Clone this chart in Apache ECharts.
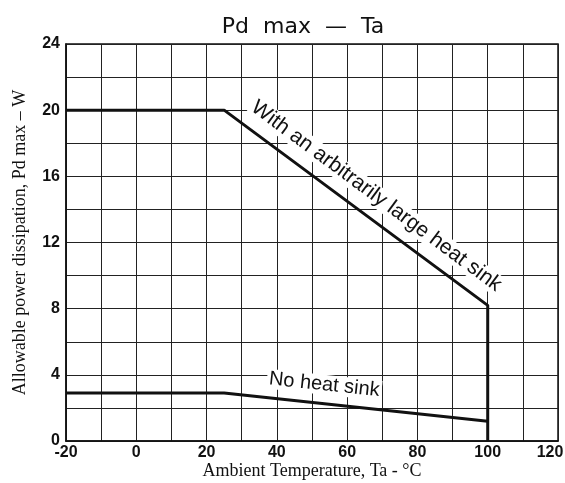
<!DOCTYPE html>
<html>
<head>
<meta charset="utf-8">
<script src="https://cdn.jsdelivr.net/npm/echarts@6/dist/echarts.min.js"></script>
<style>html,body{margin:0;padding:0;background:#fff;}#c{width:565px;height:483px;}</style>
</head>
<body>
<div id="c"></div>
<script>
// Data (Ta in °C, Pd max in W)
const heatSinkTa = [-20, 25, 100, 100];
const heatSinkPd = [20, 20, 8.2, 0];
const noSinkTa = [-20, 25, 100];
const noSinkPd = [2.9, 2.9, 1.2];
const xTickLabels = [-20, 0, 20, 40, 60, 80, 100, 120];
const yTickLabels = [0, 4, 8, 12, 16, 20, 24];
const heatSinkLabel = {text: 'With an arbitrarily large heat sink', ta: 68.3, pd: 14.8};
const noSinkLabel = {text: 'No heat sink', ta: 53.5, pd: 3.4};

const pair = (xs, ys) => xs.map((x, i) => [x, ys[i]]);
const tickFont = "'Liberation Sans', sans-serif";

const chart = echarts.init(document.getElementById('c'));
const option = {
  animation: false,
  backgroundColor: '#fff',
  title: {
    text: 'Pd  max  —  Ta',
    left: 298,
    textAlign: 'center',
    top: 11,
    textStyle: {fontFamily: 'DejaVu Sans', fontSize: 22, fontWeight: 'normal', color: '#111'}
  },
  grid: {left: 66, right: 7, top: 44, bottom: 42, show: true, borderColor: '#111', borderWidth: 1.5,
         containLabel: false, outerBoundsMode: 'none'},
  xAxis: {
    type: 'value', min: -20, max: 120, interval: 10,
    name: 'Ambient Temperature, Ta - °C', nameLocation: 'middle', nameGap: 21,
    nameMoveOverlap: false,
    nameTextStyle: {fontFamily: 'Liberation Serif', fontSize: 18, color: '#111'},
    axisLine: {show: true, onZero: false, lineStyle: {color: '#111', width: 1.5}},
    axisTick: {show: false},
    axisLabel: {
      margin: 4, fontFamily: tickFont, fontSize: 16, fontWeight: 'bold', color: '#111',
      hideOverlap: false,
      formatter: v => xTickLabels.indexOf(v) >= 0 ? (v === 120 ? '{e|' + v + '}' : String(v)) : '',
      rich: {e: {fontFamily: tickFont, fontSize: 16, fontWeight: 'bold', color: '#111', padding: [0, 16, 0, 0]}}
    },
    splitLine: {show: true, lineStyle: {color: '#222', width: 1}}
  },
  yAxis: {
    type: 'value', min: 0, max: 24, interval: 2,
    name: 'Allowable power dissipation, Pd max – W', nameLocation: 'middle', nameGap: 37,
    nameMoveOverlap: false,
    nameTextStyle: {fontFamily: 'Liberation Serif', fontSize: 18, color: '#111'},
    axisLine: {show: true, onZero: false, lineStyle: {color: '#111', width: 1.5}},
    axisTick: {show: false},
    axisLabel: {
      margin: 6, fontFamily: tickFont, fontSize: 16, fontWeight: 'bold', color: '#111',
      formatter: v => yTickLabels.indexOf(v) >= 0 ? String(v) : ''
    },
    splitLine: {show: true, lineStyle: {color: '#222', width: 1}}
  },
  series: [
    {type: 'line', data: pair(heatSinkTa, heatSinkPd), symbol: 'none', lineStyle: {color: '#111', width: 3}, z: 5},
    {type: 'line', data: pair(noSinkTa, noSinkPd), symbol: 'none', lineStyle: {color: '#111', width: 3}, z: 5}
  ]
};
chart.setOption(option);

function angleOf(xs, ys, i) {
  const a = chart.convertToPixel({gridIndex: 0}, [xs[i], ys[i]]);
  const b = chart.convertToPixel({gridIndex: 0}, [xs[i + 1], ys[i + 1]]);
  return -Math.atan2(b[1] - a[1], b[0] - a[0]);
}
const p1 = chart.convertToPixel({gridIndex: 0}, [heatSinkLabel.ta, heatSinkLabel.pd]);
const p2 = chart.convertToPixel({gridIndex: 0}, [noSinkLabel.ta, noSinkLabel.pd]);
chart.setOption({
  graphic: [
    {type: 'text', x: p1[0], y: p1[1], rotation: angleOf(heatSinkTa, heatSinkPd, 1), z: 10,
     style: {text: heatSinkLabel.text, fontFamily: 'Liberation Sans', fontSize: 21, fill: '#111',
             align: 'center', verticalAlign: 'middle', backgroundColor: '#fff', padding: [0, 2]}},
    {type: 'text', x: p2[0], y: p2[1], rotation: angleOf(noSinkTa, noSinkPd, 1), z: 10,
     style: {text: noSinkLabel.text, fontFamily: 'Liberation Sans', fontSize: 20, fill: '#111',
             align: 'center', verticalAlign: 'middle', backgroundColor: '#fff', padding: [0, 2]}}
  ]
});
</script>
</body>
</html>
